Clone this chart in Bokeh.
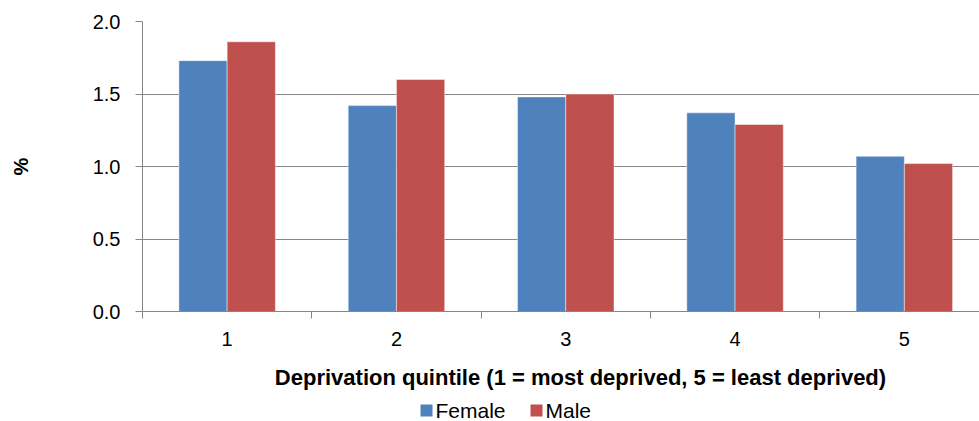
from bokeh.plotting import figure
from bokeh.layouts import column
from bokeh.models import ColumnDataSource, FixedTicker
from bokeh.core.properties import value
from bokeh.transform import dodge
from bokeh.embed import file_html
from bokeh.resources import INLINE

# Deprivation quintiles and percentage by sex
quintiles = [1, 2, 3, 4, 5]
female = [1.73, 1.42, 1.48, 1.37, 1.07]
male = [1.86, 1.60, 1.50, 1.29, 1.02]
y_ticks = [0.0, 0.5, 1.0, 1.5, 2.0]
y_tick_labels = ["0.0", "0.5", "1.0", "1.5", "2.0"]
x_tick_labels = ["1", "2", "3", "4", "5"]
series_names = ["Female", "Male"]
x_title = "Deprivation quintile (1 = most deprived, 5 = least deprived)"
y_title = "%"

FONT = "Liberation Sans"
FS = "20px"
GREY = "#868686"
BLUE = "#4F81BD"
RED = "#C0504D"
series_colors = [BLUE, RED]

source = ColumnDataSource(dict(q=quintiles, female=female, male=male))

p = figure(
    width=979, height=361,
    x_range=(0.5, 0.5 + 837 / 169.3), y_range=(0, 2.0),
    output_backend="svg", toolbar_location=None,
    min_border_left=142, min_border_right=0,
    min_border_top=21, min_border_bottom=50,
)
p.outline_line_color = None
p.background_fill_color = "white"
p.border_fill_color = "white"

bar_w = 0.285
p.vbar(x=dodge("q", -bar_w / 2, range=p.x_range), top="female", width=bar_w,
       bottom=0, source=source, fill_color=BLUE,
       line_color="white", line_alpha=0.45, line_width=1)
p.vbar(x=dodge("q", bar_w / 2, range=p.x_range), top="male", width=bar_w,
       bottom=0, source=source, fill_color=RED,
       line_color="white", line_alpha=0.45, line_width=1)

# x axis: labels centred on each quintile, tick marks between categories
xa = p.xaxis[0]
xa.ticker = FixedTicker(ticks=quintiles, minor_ticks=[q - 0.5 for q in quintiles] + [5.5])
xa.major_label_overrides = {q: lab for q, lab in zip(quintiles, x_tick_labels)}
xa.major_tick_out = 0
xa.major_tick_in = 0
xa.minor_tick_out = 7
xa.minor_tick_in = 0
xa.minor_tick_line_color = GREY
xa.axis_line_color = GREY
xa.major_label_standoff = 13
xa.major_label_text_font = FONT
xa.major_label_text_font_size = FS
xa.major_label_text_color = "black"

ya = p.yaxis[0]
ya.ticker = FixedTicker(ticks=y_ticks)
ya.major_label_overrides = {t: lab for t, lab in zip(y_ticks, y_tick_labels)}
ya.major_tick_out = 7
ya.major_tick_in = 0
ya.minor_tick_out = 0
ya.minor_tick_in = 0
ya.major_tick_line_color = GREY
ya.axis_line_color = GREY
ya.major_label_standoff = 15
ya.major_label_text_font = FONT
ya.major_label_text_font_size = FS
ya.major_label_text_color = "black"
ya.axis_label = y_title
ya.axis_label_text_font = FONT
ya.axis_label_text_font_size = FS
ya.axis_label_text_font_style = "bold"
ya.axis_label_text_color = "black"
ya.axis_label_standoff = 58

p.xgrid.grid_line_color = None
p.ygrid.ticker = FixedTicker(ticks=y_ticks)
p.ygrid.grid_line_color = GREY
p.ygrid.grid_line_width = 1

# Strip below the chart holding the x-axis title and the legend; its frame
# lines up with the chart frame, so x is expressed in page pixels 142..979
STRIP_H = 60
strip = figure(
    width=979, height=STRIP_H, x_range=(142, 979), y_range=(0, STRIP_H),
    output_backend="svg", toolbar_location=None,
    min_border=0, min_border_left=0, min_border_right=0,
    min_border_top=0, min_border_bottom=0,
)
strip.axis.visible = False
strip.grid.visible = False
strip.outline_line_color = None
strip.background_fill_color = "white"
strip.border_fill_color = "white"

strip.text(x=[580], y=[44], text=[x_title],
           text_font=value(FONT), text_font_size="22px", text_font_style="bold",
           text_color="black", text_baseline="middle", text_align="center")

swatch_x = [426, 536]
leg_src = ColumnDataSource(dict(
    sx=swatch_x, tx=[x + 9 for x in swatch_x],
    name=series_names, color=series_colors,
))
strip.rect(x="sx", y=11, width=12, height=12, source=leg_src,
           fill_color="color", line_color=None)
strip.text(x="tx", y=11, text="name", source=leg_src,
           text_font=value(FONT), text_font_size="21px", text_color="black",
           text_baseline="middle", text_align="left")

layout = column(p, strip, spacing=0)

html = file_html(layout, INLINE)
with open("out.html", "w") as f:
    f.write(html)
